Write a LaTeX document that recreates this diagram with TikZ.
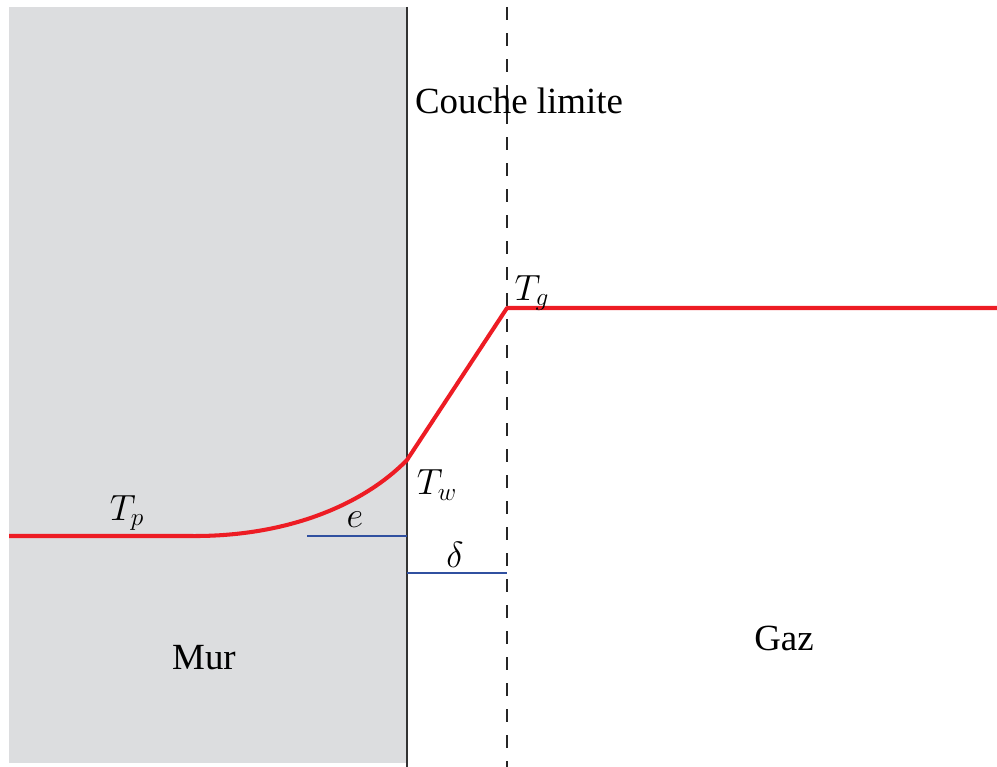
\documentclass[tikz,border=0pt]{standalone}
\usepackage{fontspec}
\setmainfont{Liberation Serif}
\usetikzlibrary{positioning}
\definecolor{murgray}{RGB}{220,221,223}
\definecolor{profred}{RGB}{237,28,36}
\definecolor{dimblue}{RGB}{48,80,160}

\begin{document}
\begin{tikzpicture}[
  x=0.02cm, y=-0.02cm,
  lbl/.style={font=\fontsize{21}{25}\selectfont, inner sep=0pt},
  profile/.style={draw=profred, line width=2.3pt, line join=round},
  dimline/.style={draw=dimblue, line width=1pt},
  wall/.style={draw=black!80, line width=1.1pt},
  layer/.style={draw=black!85, line width=1.1pt, dash pattern=on 7.4pt off 7.4pt}
]
\useasboundingbox (0,0) rectangle (997,767);

% mur
\fill[murgray] (9,7) rectangle (407,763);
\coordinate (wtop) at (407,7);
\coordinate (wbot) at (407,767);
\draw[wall] (wtop) -- (wbot);

% couche limite
\coordinate (ltop) at (507,7);
\coordinate (lbot) at (507,767);
\draw[layer] (ltop) -- (lbot);

% profil de temperature
\coordinate (p0) at (9,536);
\coordinate (p1) at (190,536);
\coordinate (tw) at (407,460);
\coordinate (tg) at (507,308);
\coordinate (p2) at (997,308);
\draw[profile] (p0) -- (p1) .. controls (290,537) and (365,503) .. (tw) -- (tg) -- (p2);

% epaisseurs
\coordinate (ea) at (307,536);
\coordinate (eb) at (407,536);
\coordinate (da) at (407,573);
\coordinate (db) at (507,573);
\draw[dimline] (ea) -- (eb);
\draw[dimline] (da) -- (db);

\node[lbl] (couche) at (519,101) {Couche limite};
\node[lbl] (tglbl) at (532,293) {$T_g$};
\node[lbl] (twlbl) at (437,485) {$T_w$};
\node[lbl] (tplbl) at (127,513) {$T_p$};
\node[lbl] (elbl) at (355,520) {$e$};
\node[lbl] (dlbl) at (455,555) {$\delta$};
\node[lbl] (mur) at (204,658) {Mur};
\node[lbl] (gaz) at (784,638) {Gaz};

\end{tikzpicture}
\end{document}
